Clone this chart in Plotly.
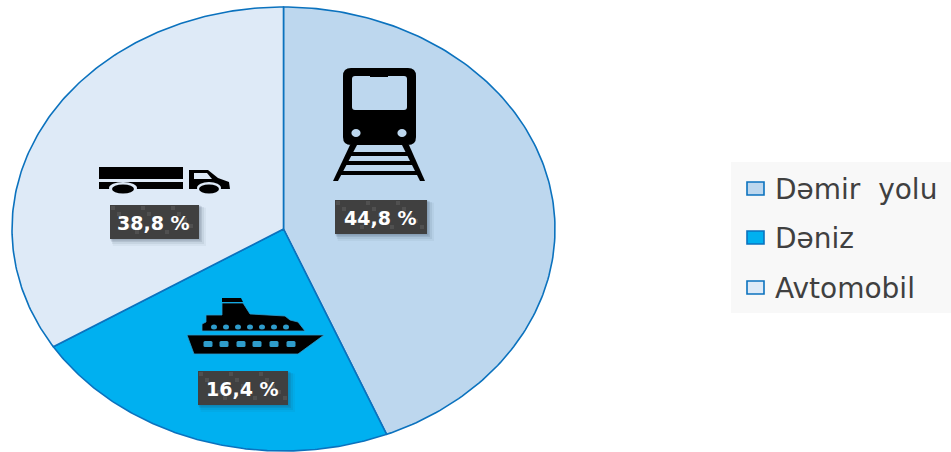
import numpy as np
import plotly.graph_objects as go

# Data
categories = ["Dəmir\u00a0\u00a0yolu", "Dəniz", "Avtomobil"]
label_texts = ["44,8 %", "16,4 %", "38,8 %"]
# shares as drawn in the picture (the slices are not drawn to the printed percentages)
drawn_shares = [43.8, 22.3, 33.9]
colors = ["#BDD7EE", "#00B0F0", "#DEEAF7"]

EDGE = "#0B72BE"
CX, CY, RX, RY = 283.5, 229, 271.5, 222

fig = go.Figure()
shapes, annotations = [], []

# slices
start = 0.0
total = sum(drawn_shares)
for name, share, col in zip(categories, drawn_shares, colors):
    a = np.linspace(start, start + share / total * 2 * np.pi, 160)
    xs = np.r_[CX, CX + RX * np.sin(a), CX]
    ys = np.r_[CY, CY - RY * np.cos(a), CY]
    fig.add_trace(go.Scatter(x=xs, y=ys, mode="lines", fill="toself", fillcolor=col, name=name,
                             line=dict(color=EDGE, width=1.6), showlegend=False, hoverinfo="name"))
    start += share / total * 2 * np.pi


def poly(points, fill="#000000", line=None, lw=0):
    d = "M " + " L ".join(f"{x},{y}" for x, y in points) + " Z"
    shapes.append(dict(type="path", path=d, xref="x", yref="y", fillcolor=fill, layer="above",
                       line=dict(color=line or "rgba(0,0,0,0)", width=lw)))


def rect(x0, y0, x1, y1, fill="#000000", line=None, lw=0):
    shapes.append(dict(type="rect", x0=x0, y0=y0, x1=x1, y1=y1, xref="x", yref="y", fillcolor=fill,
                       layer="above", line=dict(color=line or "rgba(0,0,0,0)", width=lw)))


def oval(cx, cy, rx, ry, fill="#000000"):
    shapes.append(dict(type="circle", x0=cx - rx, x1=cx + rx, y0=cy - ry, y1=cy + ry, xref="x", yref="y",
                       fillcolor=fill, layer="above", line=dict(color="rgba(0,0,0,0)", width=0)))


def rrect_path(x0, y0, x1, y1, r):
    return (f"M {x0+r},{y0} L {x1-r},{y0} Q {x1},{y0} {x1},{y0+r} L {x1},{y1-r} Q {x1},{y1} {x1-r},{y1} "
            f"L {x0+r},{y1} Q {x0},{y1} {x0},{y1-r} L {x0},{y0+r} Q {x0},{y0} {x0+r},{y0} Z")


def rrect(x0, y0, x1, y1, r, fill="#000000"):
    shapes.append(dict(type="path", path=rrect_path(x0, y0, x1, y1, r), xref="x", yref="y", fillcolor=fill,
                       layer="above", line=dict(color="rgba(0,0,0,0)", width=0)))


# train icon
BG1 = colors[0]
rrect(343, 68, 416, 145, 8)
rrect(352, 76, 407, 110, 3, BG1)
rect(370, 74, 388, 77, "#000000")
oval(356, 133, 4.6, 4, BG1)
oval(402, 133, 4.6, 4, BG1)
poly([(350, 145), (357, 145), (338, 181), (333, 181)])
poly([(402, 145), (409, 145), (425, 181), (420, 181)])
rect(350, 152, 409, 156)
rect(345, 161, 414, 165)
rect(339, 171, 420, 175)

# truck icon
BG3 = colors[2]
rect(99, 167, 183, 179)
rect(99, 182, 183, 189)
oval(123, 188, 14, 6, BG3)
oval(123, 189, 11, 4.5)
poly([(189, 170), (208, 170), (218, 178), (229, 182), (230, 189), (189, 189)])
poly([(194, 173), (207, 173), (212, 179), (194, 179)], BG3)
oval(209, 188, 12, 6, BG3)
oval(209, 189, 10, 4.5)

# ship icon
WIN = "#2F9CCB"
poly([(222, 298), (241, 298), (243, 302), (222, 302)])
poly([(187, 335), (324, 335), (298, 354), (194, 354)], line=WIN, lw=0.8)
poly([(202, 331), (202, 324), (206, 322), (206, 315), (222, 315), (222, 303), (243, 303), (250, 314),
      (285, 316), (290, 320), (298, 322), (305, 331)], line=WIN, lw=0.8)
for wx in [214, 226, 238, 250, 262, 274, 286]:
    oval(wx, 327, 3, 2.5, WIN)
for wx in [208, 224, 241, 257, 274, 291]:
    rrect(wx - 4.5, 341, wx + 4.5, 347, 1.5, WIN)

# percentage labels
boxes = [(335, 200, 427, 234), (198, 371, 288, 405), (110, 205, 199, 239)]
for text, (x0, y0, x1, y1) in zip(label_texts, boxes):
    for k, a in [(7, .05), (5, .08), (3, .12), (1.5, .15)]:
        rect(x0 + k * .4, y0 + k * .4, x1 + k, y1 + k, f"rgba(40,60,80,{a})")
    rect(x0, y0, x1, y1, "#404040")
    for i, gx in enumerate(range(x0, x1, 6)):
        for j, gy in enumerate(range(y0 + 1, y1 - 3, 6)):
            if (i * 2 + j * 3) % 5 == 0 and gx + 5 < x1:
                rect(gx + 1, gy, gx + 5, gy + 4, "#505050")
    annotations.append(dict(x=(x0 + x1) / 2 - 1, y=(y0 + y1) / 2 + 0.5, xref="x", yref="y", text=f"<b>{text}</b>",
                            showarrow=False, xanchor="center", yanchor="middle",
                            font=dict(family="DejaVu Sans", size=19, color="#FFFFFF")))

# legend
rect(731, 162, 951, 313, "#F8F8F8")
leg_y = [189, 238, 288]
for name, col, ly in zip(categories, colors, leg_y):
    rect(747, ly - 7, 764, ly + 6, col, EDGE, 1.6)
    annotations.append(dict(x=773, y=ly, xref="x", yref="y", text=name, showarrow=False,
                            xanchor="left", yanchor="middle",
                            font=dict(family="DejaVu Sans", size=28, color="#404040")))

fig.update_layout(
    width=951, height=452, margin=dict(l=0, r=0, t=0, b=0),
    paper_bgcolor="#FFFFFF", plot_bgcolor="#FFFFFF", showlegend=False,
    xaxis=dict(range=[0, 951], visible=False, fixedrange=True),
    yaxis=dict(range=[452, 0], visible=False, fixedrange=True),
    shapes=shapes, annotations=annotations,
)
fig.write_html("out.html", config=dict(displayModeBar=False),
               post_script="document.body.style.margin='0';document.documentElement.style.overflow='hidden';")
